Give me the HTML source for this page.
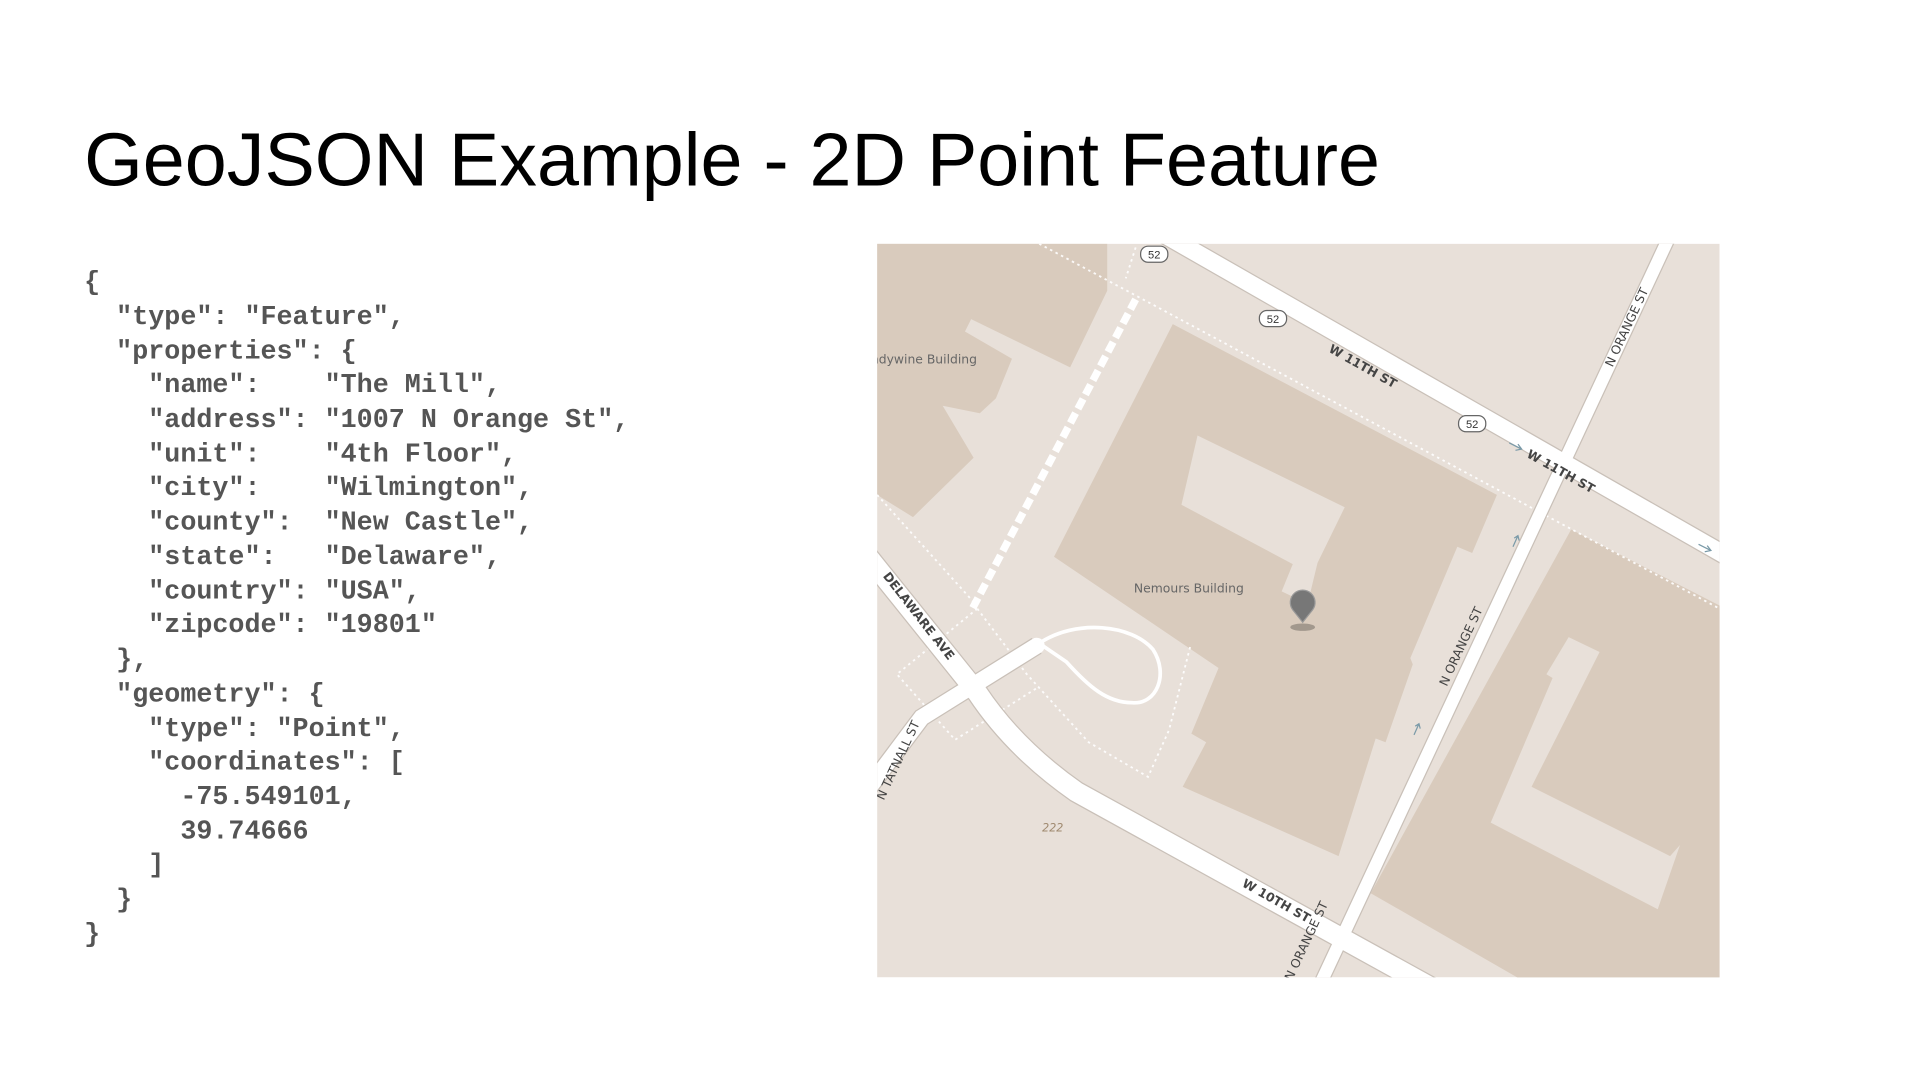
<!DOCTYPE html>
<html><head><meta charset="utf-8"><style>
html,body{margin:0;padding:0;background:#fff;}
svg{display:block;}
.code text{white-space:pre;}
</style></head><body>
<svg width="1920" height="1080" viewBox="0 0 1552 873" xmlns="http://www.w3.org/2000/svg">
<rect width="1552" height="873" fill="#fff"/>
<text x="68" y="150" font-family="Liberation Sans, sans-serif" font-size="61" fill="#000">GeoJSON Example - 2D Point Feature</text>
<g class="code" font-family="Liberation Mono, monospace" font-weight="bold" font-size="21.6" fill="#555">
<text x="68" y="234">{</text>
<text x="68" y="262">  "type": "Feature",</text>
<text x="68" y="290">  "properties": {</text>
<text x="68" y="317">    "name":    "The Mill",</text>
<text x="68" y="345">    "address": "1007 N Orange St",</text>
<text x="68" y="373">    "unit":    "4th Floor",</text>
<text x="68" y="400">    "city":    "Wilmington",</text>
<text x="68" y="428">    "county":  "New Castle",</text>
<text x="68" y="456">    "state":   "Delaware",</text>
<text x="68" y="484">    "country": "USA",</text>
<text x="68" y="511">    "zipcode": "19801"</text>
<text x="68" y="539">  },</text>
<text x="68" y="567">  "geometry": {</text>
<text x="68" y="595">    "type": "Point",</text>
<text x="68" y="622">    "coordinates": [</text>
<text x="68" y="650">      -75.549101,</text>
<text x="68" y="678">      39.74666</text>
<text x="68" y="705">    ]</text>
<text x="68" y="733">  }</text>
<text x="68" y="761">}</text>
</g>
<defs><clipPath id="mc"><rect x="709" y="197" width="681" height="593"/></clipPath></defs>
<g clip-path="url(#mc)">
<rect x="709" y="197" width="681" height="593" fill="#e8e0d9"/>
<g fill="#d9cbbd">
<polygon points="709,197 895,197 895,235 865,297 785,258 780,268 818,290 805,322 792,334 762,328 787,370 738,418 709,400"/>
<polygon points="948,262 1210,400 1190,447 1178,442 1140,532 1142,537 1120,600 1112,597 1082,692 956,636 975,600 963,593 985,540 852,450"/>
<polygon points="1270,428 1395,492 1395,795 1235,795 1108,722"/>
</g>
<g fill="#e8e0d9">
<polygon points="968,352 1087,410 1065,455 1057,488 1036,478 1045,456 955,408"/>
<polygon points="1268,515 1293,527 1238,636 1350,692 1358,683 1340,735 1205,665 1255,548 1250,545"/>
</g>
<g stroke="#fff" stroke-width="1.5" stroke-dasharray="2,3" fill="none" opacity="0.9">
<line x1="840" y1="197" x2="1390" y2="492"/>
<line x1="709" y1="400" x2="790" y2="490"/>
<polyline points="790,492 830,545 880,600 928,628 945,590 962,523"/>
<polyline points="790,492 725,545 772,598 840,555"/>
<line x1="918" y1="200" x2="910" y2="225"/>
</g>
<g stroke="#c9c0b8" stroke-linecap="butt" fill="none">
<line x1="942" y1="190" x2="1400" y2="452" stroke-width="16"/>
<line x1="1350" y1="190" x2="1066" y2="798" stroke-width="12"/>
<path d="M700,448 L790,560 Q820,605 870,640 L1160,800" stroke-width="18"/>
<path d="M700,640 L745,580 L838,522" stroke-width="15"/>
</g>
<g stroke="#fff" stroke-linecap="butt" fill="none">
<line x1="942" y1="190" x2="1400" y2="452" stroke-width="14"/>
<line x1="1350" y1="190" x2="1066" y2="798" stroke-width="10"/>
<path d="M700,448 L790,560 Q820,605 870,640 L1160,800" stroke-width="16"/>
<path d="M700,640 L745,580 L838,522" stroke-width="13" stroke-linecap="round"/>
<path d="M840,520 C870,500 915,505 932,525 C945,545 935,570 915,568 C895,568 880,555 862,535 Z" stroke-width="3"/>
<line x1="918" y1="242" x2="786" y2="492" stroke-width="6" stroke-dasharray="9,4"/>
</g>
<g font-family="Liberation Sans, sans-serif" font-size="9" fill="#333" text-anchor="middle">
<rect x="922" y="199" width="22" height="13" rx="6" fill="#fff" stroke="#666"/><text x="933" y="209">52</text>
<rect x="1018" y="251" width="22" height="13" rx="6" fill="#fff" stroke="#666"/><text x="1029" y="261">52</text>
<rect x="1179" y="336" width="22" height="13" rx="6" fill="#fff" stroke="#666"/><text x="1190" y="346">52</text>
</g>
<g font-family="DejaVu Sans, sans-serif" font-size="10" font-weight="bold" fill="#444" text-anchor="middle">
<text transform="translate(1100,299) rotate(29.3)">W 11TH ST</text>
<text transform="translate(1260,384) rotate(29.3)">W 11TH ST</text>
<text transform="translate(1030,731) rotate(29.3)">W 10TH ST</text>
<text transform="translate(1318,266) rotate(-65)" font-weight="normal">N ORANGE ST</text>
<text transform="translate(1184,524) rotate(-65)" font-weight="normal">N ORANGE ST</text>
<text transform="translate(1059,762) rotate(-65)" font-weight="normal">N ORANGE ST</text>
<text transform="translate(740,500) rotate(52)">DELAWARE AVE</text>
<text transform="translate(729,616) rotate(-65)" font-weight="normal">N TATNALL ST</text>
</g>
<g font-family="DejaVu Sans, sans-serif" font-size="10" fill="#666">
<text x="961" y="479" text-anchor="middle">Nemours Building</text>
<text x="704" y="294">ndywine Building</text>
<text x="851" y="672" text-anchor="middle" font-style="italic" fill="#a08a70" font-size="9">222</text>
</g>
<g stroke="#7a9aa8" stroke-width="1" fill="none">
<path d="M1220,358 l10,5 m-3,-4 l3,4 l-5,1"/>
<path d="M1373,440 l10,5 m-3,-4 l3,4 l-5,1"/>
<path d="M1223,442 l4,-9 m-3,2 l3,-2 l1,4"/>
<path d="M1143,594 l4,-9 m-3,2 l3,-2 l1,4"/>
</g>
<ellipse cx="1053" cy="507" rx="10" ry="3" fill="#000" opacity="0.25"/>
<path d="M1053,503 L1045,493 A10,10 0 1 1 1061,493 Z" fill="#777" stroke="#999" stroke-width="1"/>
</g>
</svg>
</body></html>
